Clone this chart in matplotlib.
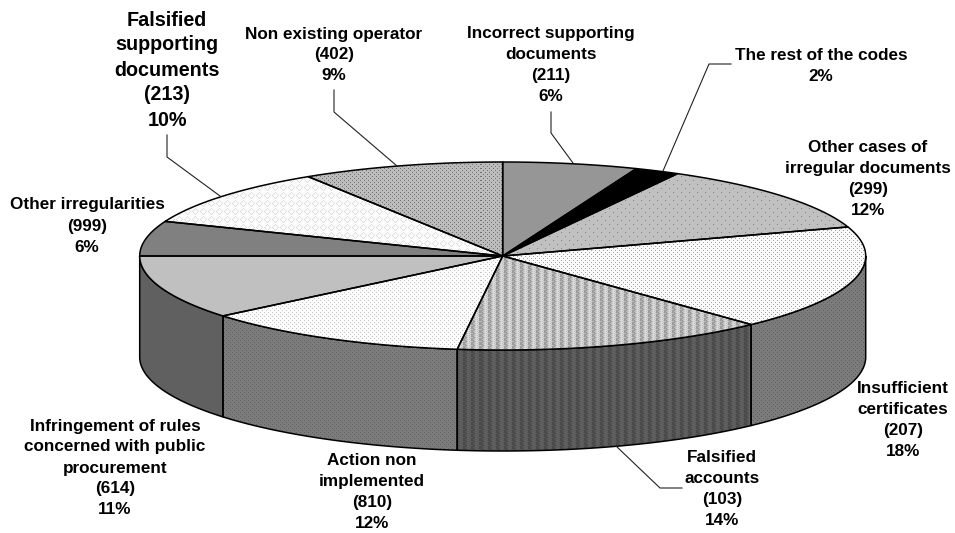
import numpy as np
import matplotlib
matplotlib.use("Agg")
import matplotlib.pyplot as plt
from matplotlib.patches import Polygon

plt.rcParams['font.family'] = ['Liberation Sans', 'DejaVu Sans']

categories = [
    "Incorrect supporting\ndocuments",
    "The rest of the codes",
    "Other cases of\nirregular documents",
    "Insufficient\ncertificates",
    "Falsified\naccounts",
    "Action non\nimplemented",
    "Infringement of rules\nconcerned with public\nprocurement",
    "Other irregularities",
    "Falsified\nsupporting\ndocuments",
    "Non existing operator",
]
codes = [211, None, 299, 207, 103, 810, 614, 999, 213, 402]
shares = [6, 2, 12, 18, 14, 12, 11, 6, 10, 9]

W, H = 955, 533
CX, CY = 502.7, 256
RX, RY = 363, 94
DEPTH = 101


def tile(rows):
    # repeat a small grey pattern over the whole canvas
    rows = np.array(rows, dtype=float)
    ny = H // rows.shape[0] + 1
    nx = W // rows.shape[1] + 1
    return np.tile(rows, (ny, nx))[:H, :W]


def dots(bg, fg, size, offs):
    t = np.full((size, size), bg, dtype=float)
    for y, x in offs:
        t[y, x] = fg
    return t


def wave(light, mid, dark):
    return [
        [dark, dark, mid, light, light, light, mid, dark],
        [mid, dark, dark, mid, light, mid, light, mid],
        [dark, dark, mid, light, light, light, mid, dark],
        [dark, mid, mid, mid, light, mid, light, dark],
    ]


lattice = [
    [252, 252, 252, 220, 252, 252, 252, 252],
    [252, 252, 220, 252, 220, 252, 252, 252],
    [252, 220, 252, 252, 252, 220, 252, 252],
    [220, 252, 252, 252, 252, 252, 220, 252],
    [252, 220, 252, 252, 252, 220, 252, 252],
    [252, 252, 220, 252, 220, 252, 252, 252],
    [252, 252, 252, 220, 252, 252, 252, 252],
    [252, 252, 252, 252, 252, 252, 252, 252],
]

top_fill = [
    [[150]],
    [[0]],
    dots(192, 135, 8, [(0, 0), (4, 4)]),
    dots(250, 160, 4, [(0, 0), (2, 2)]),
    wave(218, 190, 155),
    dots(252, 195, 4, [(0, 0), (2, 2)]),
    [[192]],
    [[128]],
    lattice,
    dots(188, 115, 4, [(0, 0), (2, 2)]),
]
side_fill = {
    3: dots(124, 92, 4, [(0, 0), (2, 2)]),
    4: wave(96, 86, 74),
    5: dots(124, 98, 4, [(0, 0), (2, 2)]),
    6: [[96]],
}

# where each label sits and how its leader runs
label_pos = [(551, 65), (821, 66), (868, 179), (903, 420), (722, 489),
             (372, 492), (115, 468), (87, 226), (167, 70), (334, 55)]
leaders = [
    [(551, 112), (551, 133), (573, 163)],
    [(731, 64), (709, 64), (663, 171)],
    [(682, 488), (660, 488), (616, 446)],
    [(334, 90), (334, 112), (397, 166)],
    [(167, 135), (167, 157), (220, 196)],
]


def rim(t0, t1, dy=0):
    t = np.radians(np.linspace(t0, t1, 120))
    return np.column_stack([CX + RX * np.sin(t), CY - RY * np.cos(t) + dy])


fig = plt.figure(figsize=(W / 100, H / 100), dpi=100)
ax = fig.add_axes([0, 0, 1, 1])


def textured(points, pattern, zorder):
    poly = Polygon(points, closed=True, facecolor='none', edgecolor='black',
                   linewidth=1.1, joinstyle='round', zorder=zorder + 0.5)
    ax.add_patch(poly)
    im = ax.imshow(tile(pattern), cmap='gray', vmin=0, vmax=255, extent=(0, W, H, 0),
                   aspect='auto', interpolation='nearest', zorder=zorder)
    im.set_clip_path(poly)


edges = np.concatenate([[0], np.cumsum(shares)]) * 3.6

# wall of the disc, only the front half shows
for i, pattern in side_fill.items():
    t0, t1 = max(edges[i], 90), min(edges[i + 1], 270)
    pts = np.vstack([rim(t0, t1), rim(t1, t0, DEPTH)])
    textured(pts, pattern, 2)

# top face
for i, pattern in enumerate(top_fill):
    pts = np.vstack([[(CX, CY)], rim(edges[i], edges[i + 1])])
    textured(pts, pattern, 3)

for line in leaders:
    xs, ys = zip(*line)
    ax.plot(xs, ys, color='#222222', linewidth=0.8, zorder=5)

for i, cat in enumerate(categories):
    text = cat
    if codes[i] is not None:
        text += f"\n({codes[i]})"
    text += f"\n{shares[i]}%"
    big = i == 8
    ax.text(label_pos[i][0], label_pos[i][1], text, ha='center', va='center',
            fontsize=14.2 if big else 12.3, fontweight='bold',
            linespacing=1.4 if big else 1.5, color='black', zorder=6)

ax.set_xlim(0, W)
ax.set_ylim(H, 0)
ax.axis('off')
fig.savefig("out.png", dpi=100, facecolor='white')
